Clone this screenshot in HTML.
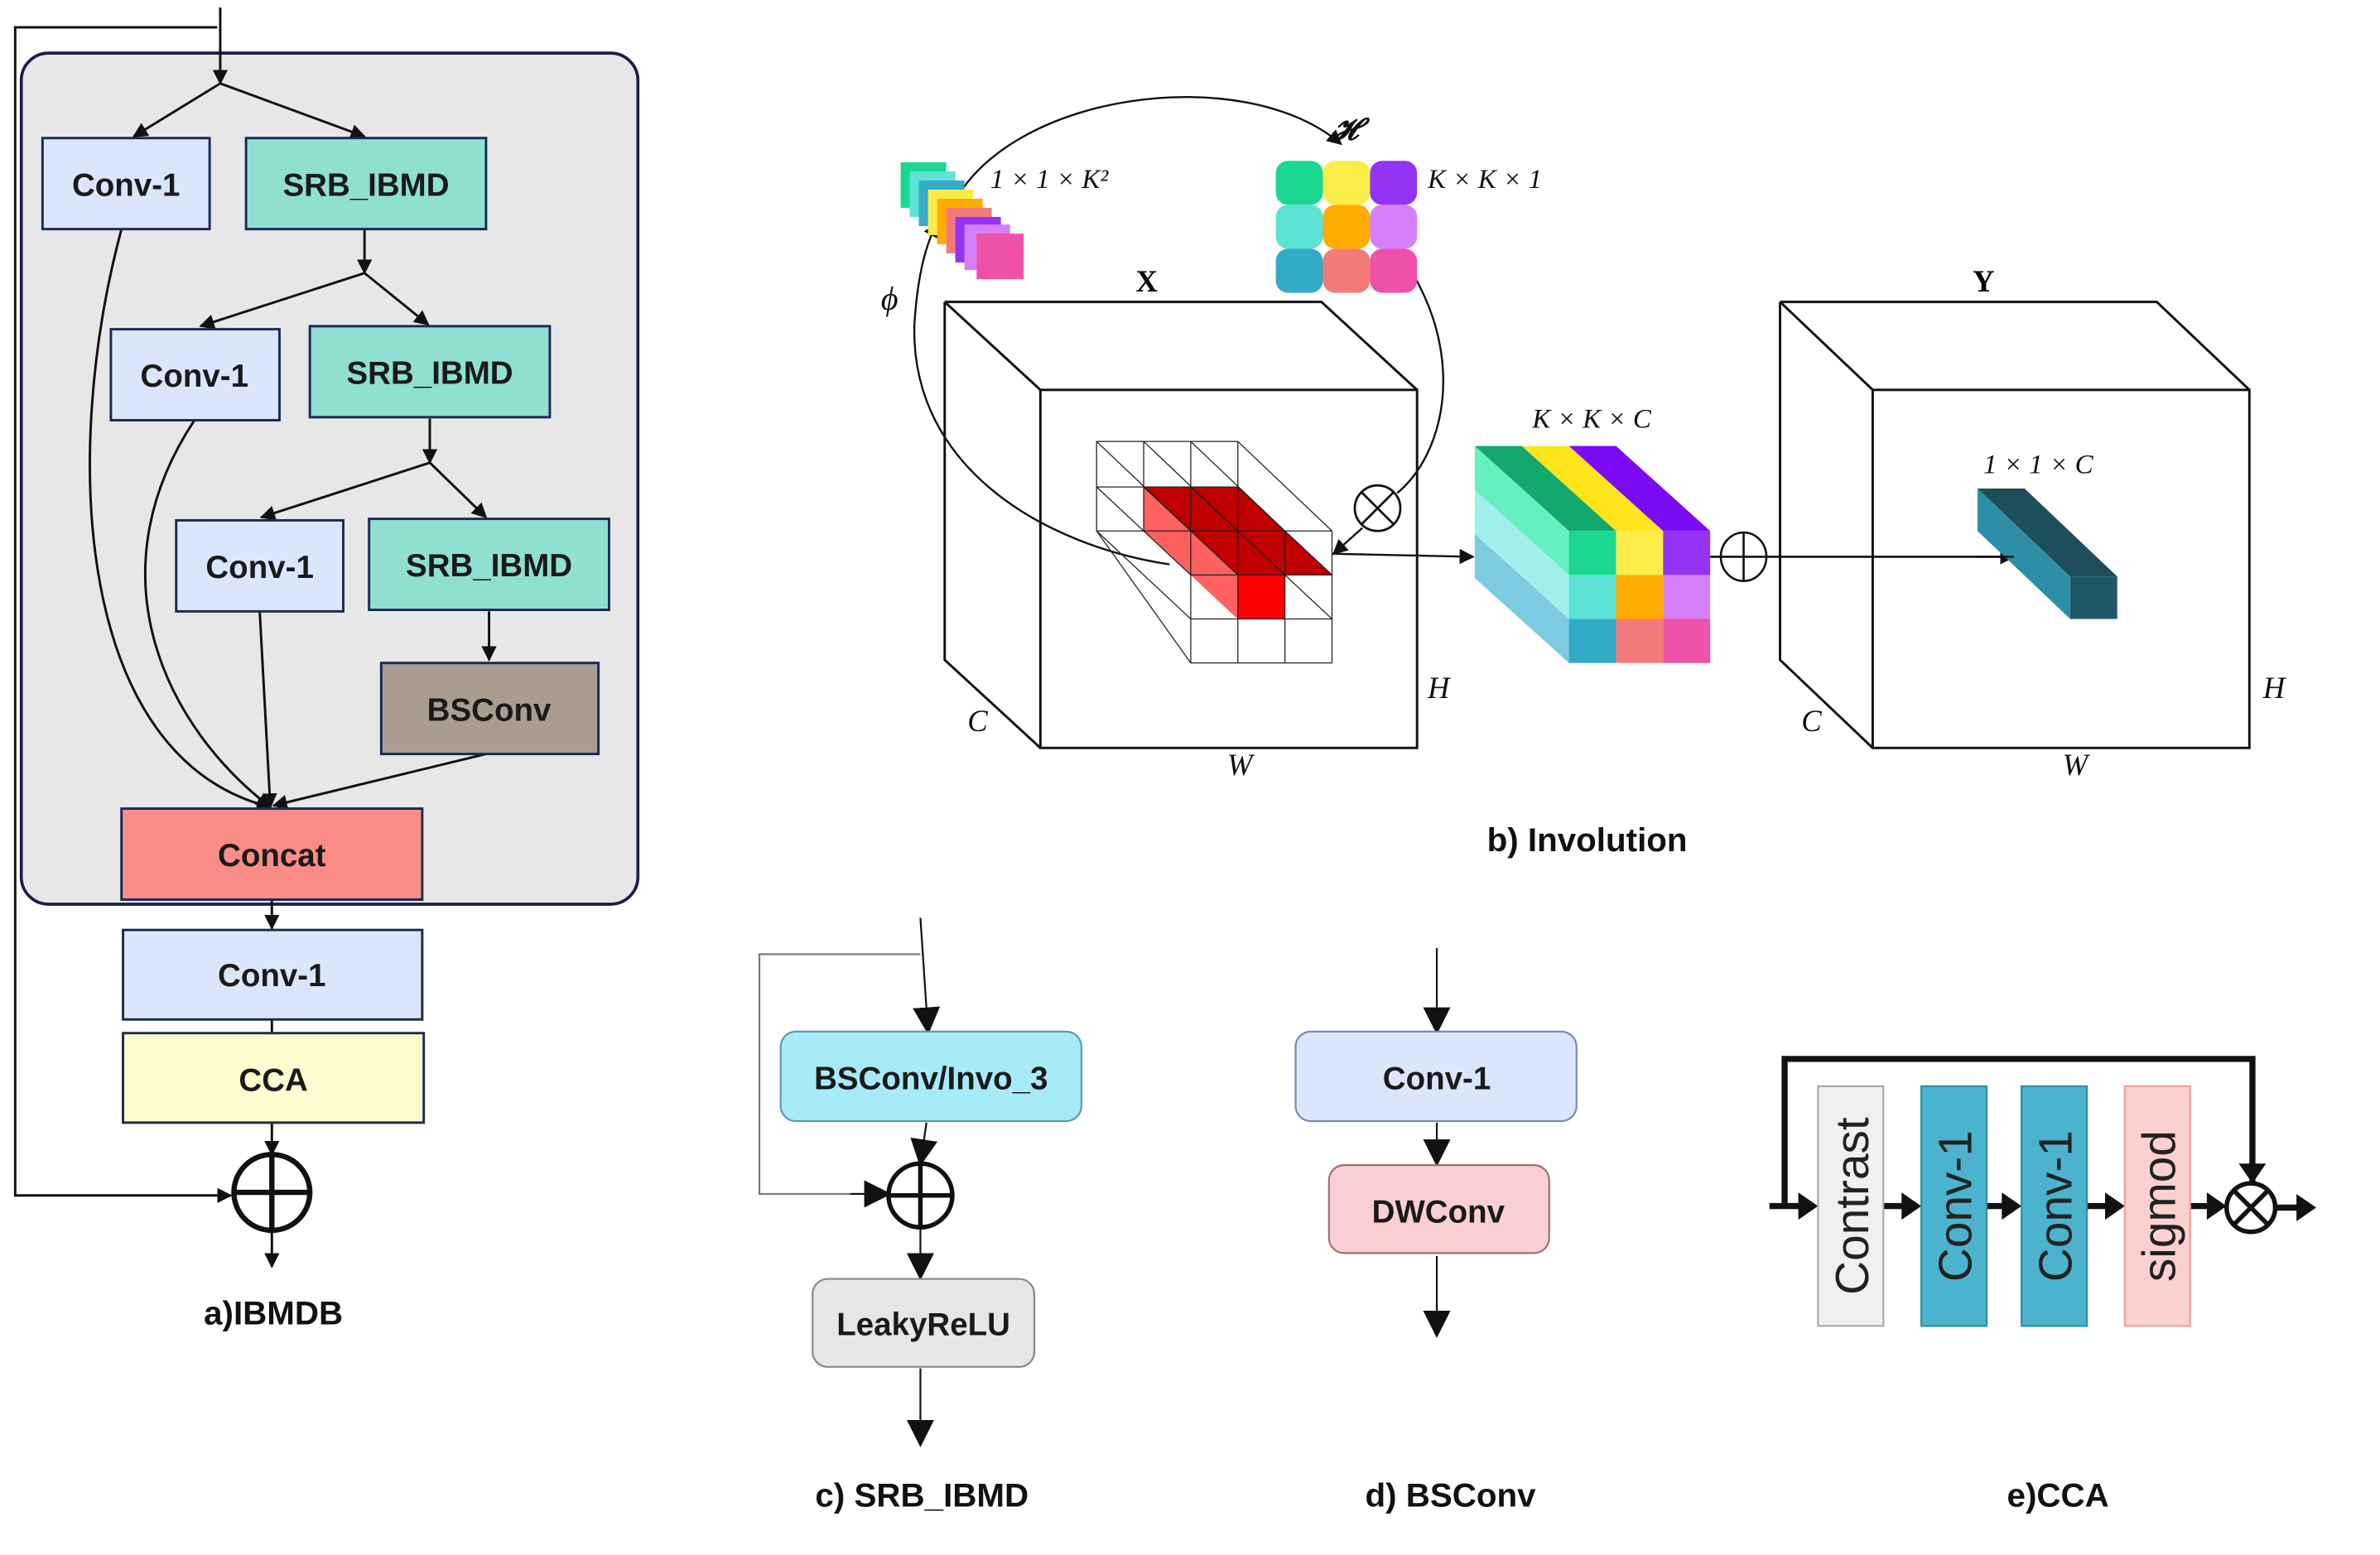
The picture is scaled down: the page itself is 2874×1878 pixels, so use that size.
<!DOCTYPE html>
<html><head><meta charset="utf-8"><style>
html,body{margin:0;padding:0;background:#fff}
svg{display:block}
.b{font-family:"Liberation Sans",sans-serif;font-size:21px;font-weight:bold;text-anchor:middle;fill:#1a1a1a}
.m{font-family:"Liberation Serif",serif;font-style:italic;font-size:18px;fill:#111}
.t{font-family:"Liberation Sans",sans-serif;font-size:22px;font-weight:bold;text-anchor:middle;fill:#111}
</style></head><body>
<svg width="2874" height="1878" viewBox="0 0 1567 1025" preserveAspectRatio="none" xmlns="http://www.w3.org/2000/svg">
<defs>
<marker id="a" markerWidth="10" markerHeight="10" refX="9" refY="5" orient="auto" markerUnits="userSpaceOnUse"><path d="M0,0 L10,5 L0,10 z" fill="#111"/></marker>
<marker id="A" markerWidth="18" markerHeight="18" refX="16" refY="9" orient="auto" markerUnits="userSpaceOnUse"><path d="M0,0 L18,9 L0,18 z" fill="#111"/></marker>
</defs>
<!-- a) -->
<rect x="14" y="35" width="406" height="561" rx="18" fill="#e7e7e7" stroke="#1a1f45" stroke-width="2"/>
<g stroke="#111" stroke-width="1.6" fill="none">
<path d="M145,5 V55" marker-end="url(#a)"/>
<path d="M143,18 H10 V788 H152" marker-end="url(#a)"/>
<path d="M145,55 L88,90" marker-end="url(#a)"/><path d="M145,55 L240,90" marker-end="url(#a)"/>
<path d="M240,151 V180" marker-end="url(#a)"/>
<path d="M240,180 L132,215" marker-end="url(#a)"/><path d="M240,180 L282,214" marker-end="url(#a)"/>
<path d="M283,276 V305" marker-end="url(#a)"/>
<path d="M283,305 L172,341" marker-end="url(#a)"/><path d="M283,305 L320,341" marker-end="url(#a)"/>
<path d="M322,403 V435" marker-end="url(#a)"/>
<path d="M80,151 C40,300 50,500 178,532" marker-end="url(#a)"/>
<path d="M128,277 C60,380 110,480 178,532" marker-end="url(#a)"/>
<path d="M171,403 L178,532" marker-end="url(#a)"/>
<path d="M320,497 L180,531" marker-end="url(#a)"/>
<path d="M179,593 V612" marker-end="url(#a)"/>
<path d="M179,672 V681"/>
<path d="M179,740 V761" marker-end="url(#a)"/>
<path d="M179,811 V835" marker-end="url(#a)"/>
</g>
<g stroke="#1a2a55" stroke-width="1.6">
<rect x="28" y="91" width="110" height="60" fill="#dce6fb"/>
<rect x="162" y="91" width="158" height="60" fill="#8fe0d1"/>
<rect x="73" y="217" width="111" height="60" fill="#dce6fb"/>
<rect x="204" y="215" width="158" height="60" fill="#8fe0d1"/>
<rect x="116" y="343" width="110" height="60" fill="#dce6fb"/>
<rect x="243" y="342" width="158" height="60" fill="#8fe0d1"/>
<rect x="251" y="437" width="143" height="60" fill="#a89d90"/>
<rect x="80" y="533" width="198" height="60" fill="#f98d85"/>
<rect x="81" y="613" width="197" height="59" fill="#dce6fb"/>
<rect x="81" y="681" width="198" height="59" fill="#fdfdd0"/>
</g>
<text class="b" x="83" y="129">Conv-1</text><text class="b" x="241" y="129">SRB_IBMD</text>
<text class="b" x="128" y="255">Conv-1</text><text class="b" x="283" y="253">SRB_IBMD</text>
<text class="b" x="171" y="381">Conv-1</text><text class="b" x="322" y="380">SRB_IBMD</text>
<text class="b" x="322" y="475">BSConv</text><text class="b" x="179" y="571">Concat</text>
<text class="b" x="179" y="650">Conv-1</text><text class="b" x="180" y="719">CCA</text>
<g stroke="#111" stroke-width="3.5" fill="none"><circle cx="179" cy="786" r="25"/><path d="M154,786 H204 M179,761 V811"/></g>
<text class="t" x="180" y="873">a)IBMDB</text>

<!-- b) -->
<g stroke="#111" stroke-width="1.3" fill="none">
<path d="M770,372 C690,360 600,310 602,215 C604,180 610,160 617,147" marker-end="url(#a)"/>
<path d="M625,140 C660,60 820,40 883,95" marker-end="url(#a)"/>
<path d="M930,180 C965,240 950,300 920,325"/>
<path d="M897,348 L878,365" marker-end="url(#a)"/>
</g>
<g>
<rect x="593" y="107" width="30" height="30" fill="#1bd890"/>
<rect x="599" y="113" width="30" height="30" fill="#5ce3d6"/>
<rect x="605" y="119" width="30" height="30" fill="#33aac8"/>
<rect x="611" y="125" width="30" height="30" fill="#f7ec4a"/>
<rect x="617" y="131" width="30" height="30" fill="#ffab00"/>
<rect x="623" y="137" width="30" height="30" fill="#f47a7a"/>
<rect x="629" y="143" width="30" height="30" fill="#9334f4"/>
<rect x="635" y="148" width="30" height="30" fill="#d580f8"/>
<rect x="643" y="154" width="31" height="30" fill="#ef50a8"/>
</g>
<g>
<rect x="840" y="106" width="31" height="29" rx="8" fill="#1bd890"/><rect x="871" y="106" width="31" height="29" rx="8" fill="#fcec4a"/><rect x="902" y="106" width="31" height="29" rx="8" fill="#9334f4"/>
<rect x="840" y="135" width="31" height="29" rx="8" fill="#5ce3d6"/><rect x="871" y="135" width="31" height="29" rx="8" fill="#ffab00"/><rect x="902" y="135" width="31" height="29" rx="8" fill="#d580f8"/>
<rect x="840" y="164" width="31" height="29" rx="8" fill="#33aac8"/><rect x="871" y="164" width="31" height="29" rx="8" fill="#f47a7a"/><rect x="902" y="164" width="31" height="29" rx="8" fill="#ef50a8"/>
</g>
<text class="m" x="652" y="124">1 × 1 × K²</text>
<text class="m" x="940" y="124">K × K × 1</text>
<text class="m" x="876" y="92" style="font-weight:bold;font-size:20px">𝓗</text>
<text class="m" x="580" y="204" style="font-size:22px">ϕ</text>
<text x="755" y="192" style="font-family:'Liberation Serif',serif;font-weight:bold;font-size:20px;text-anchor:middle">X</text>
<!-- cube X -->
<g stroke="#111" stroke-width="1.6" fill="none">
<path d="M622,199 H870 L933,257 M622,199 L685,257 M622,199 V435 L685,493"/>
<rect x="685" y="257" width="248" height="236"/>
</g>
<!-- inner grid -->
<g>
<polygon points="753,321 815,321 877,379 846,379 846,408 815,408 753,350" fill="#c00000"/>
<polygon points="753,321 784,350 815,379 815,408 753,350" fill="#ff6060"/>
<polygon points="753,350 815,408 815,379 784,379 753,350" fill="#ff6060"/>
<rect x="815" y="379" width="31" height="29" fill="#ff0000"/>
</g>
<g stroke="#222" stroke-width="0.7" fill="none">
<path d="M722,291 H815 M722,321 H815 M722,350 H815 M722,291 V350 M753,291 V350 M784,291 V350 M815,291 V350"/>
<path d="M784,350 H877 M784,379 H877 M784,408 H877 M784,437 H877 M784,350 V437 M815,350 V437 M846,350 V437 M877,350 V437"/>
<path d="M722,291 L784,350 M753,291 L815,350 M784,291 L846,350 M815,291 L877,350 M722,321 L784,379 M722,350 L784,408 M815,321 L877,379 M815,350 L877,408 M722,350 L784,437 M753,321 L815,379 M784,321 L846,379"/>
</g>
<path d="M877,365 L970,367" stroke="#111" stroke-width="1.3" fill="none" marker-end="url(#a)"/>
<g stroke="#111" stroke-width="1.5" fill="none"><circle cx="907" cy="335" r="15"/><path d="M896,324 L918,346 M918,324 L896,346"/></g>
<text class="m" x="1048" y="282" style="text-anchor:middle">K × K × C</text>
<!-- KKC block -->
<polygon points="971,294 1002,294 1064,350 1033,350" fill="#12a86e"/>
<polygon points="1002,294 1033,294 1095,350 1064,350" fill="#fce51a"/>
<polygon points="1033,294 1064,294 1126,350 1095,350" fill="#7b0af5"/>
<polygon points="971,294 1033,350 1033,379 971,323" fill="#66f0c0"/>
<polygon points="971,323 1033,379 1033,408 971,352" fill="#a0efea"/>
<polygon points="971,352 1033,408 1033,437 971,381" fill="#7ccbe0"/>
<rect x="1033" y="350" width="31" height="29" fill="#1bd890"/><rect x="1064" y="350" width="31" height="29" fill="#fcec4a"/><rect x="1095" y="350" width="31" height="29" fill="#9334f4"/>
<rect x="1033" y="379" width="31" height="29" fill="#5ce3d6"/><rect x="1064" y="379" width="31" height="29" fill="#ffab00"/><rect x="1095" y="379" width="31" height="29" fill="#d580f8"/>
<rect x="1033" y="408" width="31" height="29" fill="#33aac8"/><rect x="1064" y="408" width="31" height="29" fill="#f47a7a"/><rect x="1095" y="408" width="31" height="29" fill="#ef50a8"/>
<g stroke="#111" stroke-width="1.4" fill="none"><ellipse cx="1148" cy="367" rx="15" ry="16"/><path d="M1133,367 H1163 M1148,351 V383"/>
<path d="M1126,367 H1133 M1163,367 H1326" marker-end="url(#a)"/></g>
<!-- cube Y -->
<g stroke="#111" stroke-width="1.6" fill="none">
<path d="M1172,199 H1420 L1481,257 M1172,199 L1233,257 M1172,199 V435 L1233,493"/>
<rect x="1233" y="257" width="248" height="236"/>
</g>
<text x="1306" y="192" style="font-family:'Liberation Serif',serif;font-weight:bold;font-size:20px;text-anchor:middle">Y</text>
<polygon points="1302,322 1333,322 1394,380 1363,380" fill="#1c4f5a"/>
<polygon points="1302,322 1363,380 1363,408 1302,350" fill="#2c8ea6"/>
<rect x="1363" y="380" width="31" height="28" fill="#1e5866"/>
<path d="M1302,367 H1326" stroke="#111" stroke-width="1.3"/>
<text class="m" x="1342" y="312" style="text-anchor:middle">1 × 1 × C</text>
<text class="m" x="940" y="460" style="font-size:20px">H</text>
<text class="m" x="637" y="482" style="font-size:20px">C</text>
<text class="m" x="808" y="511" style="font-size:20px">W</text>
<text class="m" x="1490" y="460" style="font-size:20px">H</text>
<text class="m" x="1186" y="482" style="font-size:20px">C</text>
<text class="m" x="1358" y="511" style="font-size:20px">W</text>
<text class="t" x="1045" y="561">b) Involution</text>

<!-- c) -->
<g stroke="#777" stroke-width="1.2" fill="none"><path d="M606,629 H500 V787 H585"/></g>
<g stroke="#111" stroke-width="1.2" fill="none">
<path d="M606,605 L611,680" marker-end="url(#A)"/>
<path d="M560,787 L585,787" marker-end="url(#A)"/>
<path d="M610,740 L606,767" marker-end="url(#A)"/>
<path d="M606,810 V842" marker-end="url(#A)"/>
<path d="M606,902 V952" marker-end="url(#A)"/>
</g>
<rect x="514" y="680" width="198" height="59" rx="10" fill="#a8ebf8" stroke="#5a9ab0" stroke-width="1.2"/>
<text class="b" x="613" y="718">BSConv/Invo_3</text>
<g stroke="#111" stroke-width="3" fill="none"><circle cx="606" cy="788" r="21"/><path d="M585,788 H627 M606,767 V809"/></g>
<rect x="535" y="843" width="146" height="58" rx="10" fill="#e6e6e6" stroke="#888" stroke-width="1.2"/>
<text class="b" x="608" y="880">LeakyReLU</text>
<text class="t" x="607" y="993">c) SRB_IBMD</text>

<!-- d) -->
<g stroke="#111" stroke-width="1.2" fill="none">
<path d="M946,625 V680" marker-end="url(#A)"/>
<path d="M946,740 V767" marker-end="url(#A)"/>
<path d="M946,828 V880" marker-end="url(#A)"/>
</g>
<rect x="853" y="680" width="185" height="59" rx="10" fill="#dce6fb" stroke="#7a8ab0" stroke-width="1.2"/>
<text class="b" x="946" y="718">Conv-1</text>
<rect x="875" y="768" width="145" height="58" rx="10" fill="#f9cfd2" stroke="#a07070" stroke-width="1.2"/>
<text class="b" x="947" y="806">DWConv</text>
<text class="t" x="955" y="993">d) BSConv</text>

<!-- e) -->
<g stroke="#111" stroke-width="4" fill="none">
<path d="M1175,795 V698 H1483 V780"/>
<path d="M1165,795 H1186 M1240,795 H1254 M1308,795 H1320 M1374,795 H1388 M1442,795 H1456 M1498,796 H1514"/>
</g>
<g fill="#111">
<path d="M1197,795 l-13,-9 v18 z"/><path d="M1265,795 l-13,-9 v18 z"/><path d="M1331,795 l-13,-9 v18 z"/>
<path d="M1399,795 l-13,-9 v18 z"/><path d="M1466,795 l-13,-9 v18 z"/><path d="M1483,780 l-9,-13 h18 z"/><path d="M1525,796 l-13,-9 v18 z"/>
</g>
<rect x="1197" y="716" width="43" height="158" fill="#f0f0f0" stroke="#aaa" stroke-width="1.2"/>
<rect x="1265" y="716" width="43" height="158" fill="#4cb3cf" stroke="#2a8fa8" stroke-width="1.2"/>
<rect x="1331" y="716" width="43" height="158" fill="#4cb3cf" stroke="#2a8fa8" stroke-width="1.2"/>
<rect x="1399" y="716" width="43" height="158" fill="#fbd0d0" stroke="#e8a0a0" stroke-width="1.2"/>
<g style="font-family:'Liberation Sans',sans-serif;font-size:31px;text-anchor:middle;fill:#222">
<text transform="translate(1230,795) rotate(-90)">Contrast</text>
<text transform="translate(1298,795) rotate(-90)">Conv-1</text>
<text transform="translate(1364,795) rotate(-90)">Conv-1</text>
<text transform="translate(1432,795) rotate(-90)">sigmod</text>
</g>
<g stroke="#111" stroke-width="3" fill="none"><circle cx="1482" cy="796" r="16"/><path d="M1471,785 L1493,807 M1493,785 L1471,807"/></g>
<text class="t" x="1355" y="993">e)CCA</text>
</svg>
</body></html>
